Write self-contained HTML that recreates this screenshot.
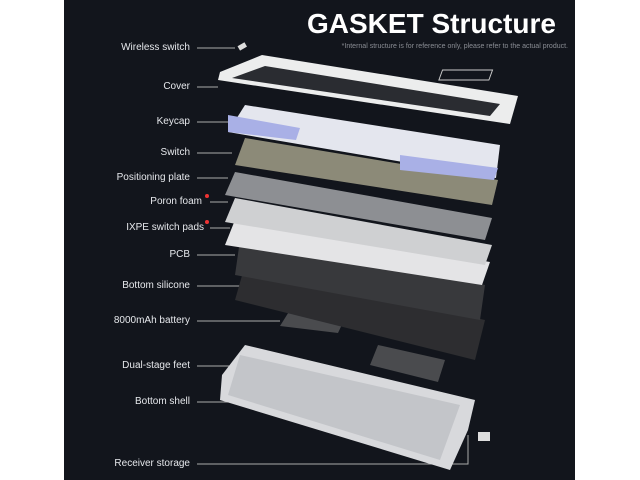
<!DOCTYPE html>
<html><head><style>
body{margin:0;width:640px;height:480px;background:#fff;overflow:hidden;font-family:"Liberation Sans",sans-serif}
.bg{position:absolute;left:64px;top:0;width:511px;height:480px;background:#12151c}
.l{position:absolute;right:450px;color:#e6e8ec;font-size:10px;white-space:nowrap}
</style></head><body>
<div class="bg"></div>
<svg width="640" height="480" style="position:absolute;left:0;top:0">
<g stroke="#aaa" stroke-width="1">
<line x1="197" y1="48" x2="235" y2="48"/><line x1="197" y1="87" x2="218" y2="87"/>
<line x1="197" y1="122" x2="230" y2="122"/><line x1="197" y1="153" x2="232" y2="153"/>
<line x1="197" y1="178" x2="228" y2="178"/><line x1="210" y1="202" x2="228" y2="202"/>
<line x1="210" y1="228" x2="230" y2="228"/><line x1="197" y1="255" x2="235" y2="255"/>
<line x1="197" y1="286" x2="240" y2="286"/><line x1="197" y1="321" x2="280" y2="321"/>
<line x1="197" y1="366" x2="238" y2="366"/><line x1="197" y1="402" x2="230" y2="402"/>
<polyline fill="none" points="197,464 468,464 468,435"/>
</g>
<circle cx="207" cy="196" r="2" fill="#e33"/><circle cx="207" cy="222" r="2" fill="#e33"/>
<rect x="440" y="70" width="50" height="10" fill="none" stroke="#ccc" transform="skewX(-20) translate(28,0)"/>
<polygon points="245,345 475,400 468,430 450,470 220,400 222,375" fill="#d8d9dc"/>
<polygon points="240,355 460,405 440,460 228,395" fill="#c3c5c9"/>
<polygon points="290,310 345,318 338,333 280,326" fill="#4a4b4e"/>
<polygon points="378,345 445,360 438,382 370,365" fill="#4a4b4e"/>
<polygon points="245,265 485,320 475,360 235,300" fill="#2d2d30"/>
<polygon points="240,240 485,285 480,320 235,275" fill="#38393c"/>
<polygon points="235,220 490,262 482,285 225,245" fill="#e4e4e6"/>
<polygon points="235,198 492,245 485,265 225,222" fill="#cfd0d2"/>
<polygon points="235,172 492,218 485,240 225,195" fill="#8d8f93"/>
<polygon points="245,138 498,180 492,205 235,165" fill="#8c8a78"/>
<polygon points="245,105 500,145 496,178 228,132" fill="#e4e6ee"/>
<polygon points="228,115 300,128 296,140 228,132" fill="#a9b0e6"/>
<polygon points="400,155 498,168 494,180 400,170" fill="#a9b0e6"/>
<polygon points="262,55 518,96 510,124 218,80 220,72" fill="#eceded"/>
<polygon points="265,66 500,104 490,116 232,78" fill="#2a2c31"/>
<rect x="238" y="44" width="8" height="5" fill="#ddd" transform="rotate(-30 242 46)"/>
<rect x="478" y="432" width="12" height="9" fill="#ddd"/>
</svg>
<div style="position:absolute;left:307px;top:8px;color:#fff;font-weight:bold;font-size:28px;white-space:nowrap">GASKET Structure</div>
<div style="position:absolute;right:72px;top:43px;color:#8a8d94;font-size:7px;white-space:nowrap">*Internal structure is for reference only, please refer to the actual product.</div>
<div class="l" style="top:42px">Wireless switch</div>
<div class="l" style="top:81px">Cover</div>
<div class="l" style="top:116px">Keycap</div>
<div class="l" style="top:147px">Switch</div>
<div class="l" style="top:172px">Positioning plate</div>
<div class="l" style="top:196px;right:438px">Poron foam</div>
<div class="l" style="top:222px;right:436px">IXPE switch pads</div>
<div class="l" style="top:249px">PCB</div>
<div class="l" style="top:280px">Bottom silicone</div>
<div class="l" style="top:315px">8000mAh battery</div>
<div class="l" style="top:360px">Dual-stage feet</div>
<div class="l" style="top:396px">Bottom shell</div>
<div class="l" style="top:458px">Receiver storage</div>
</body></html>
